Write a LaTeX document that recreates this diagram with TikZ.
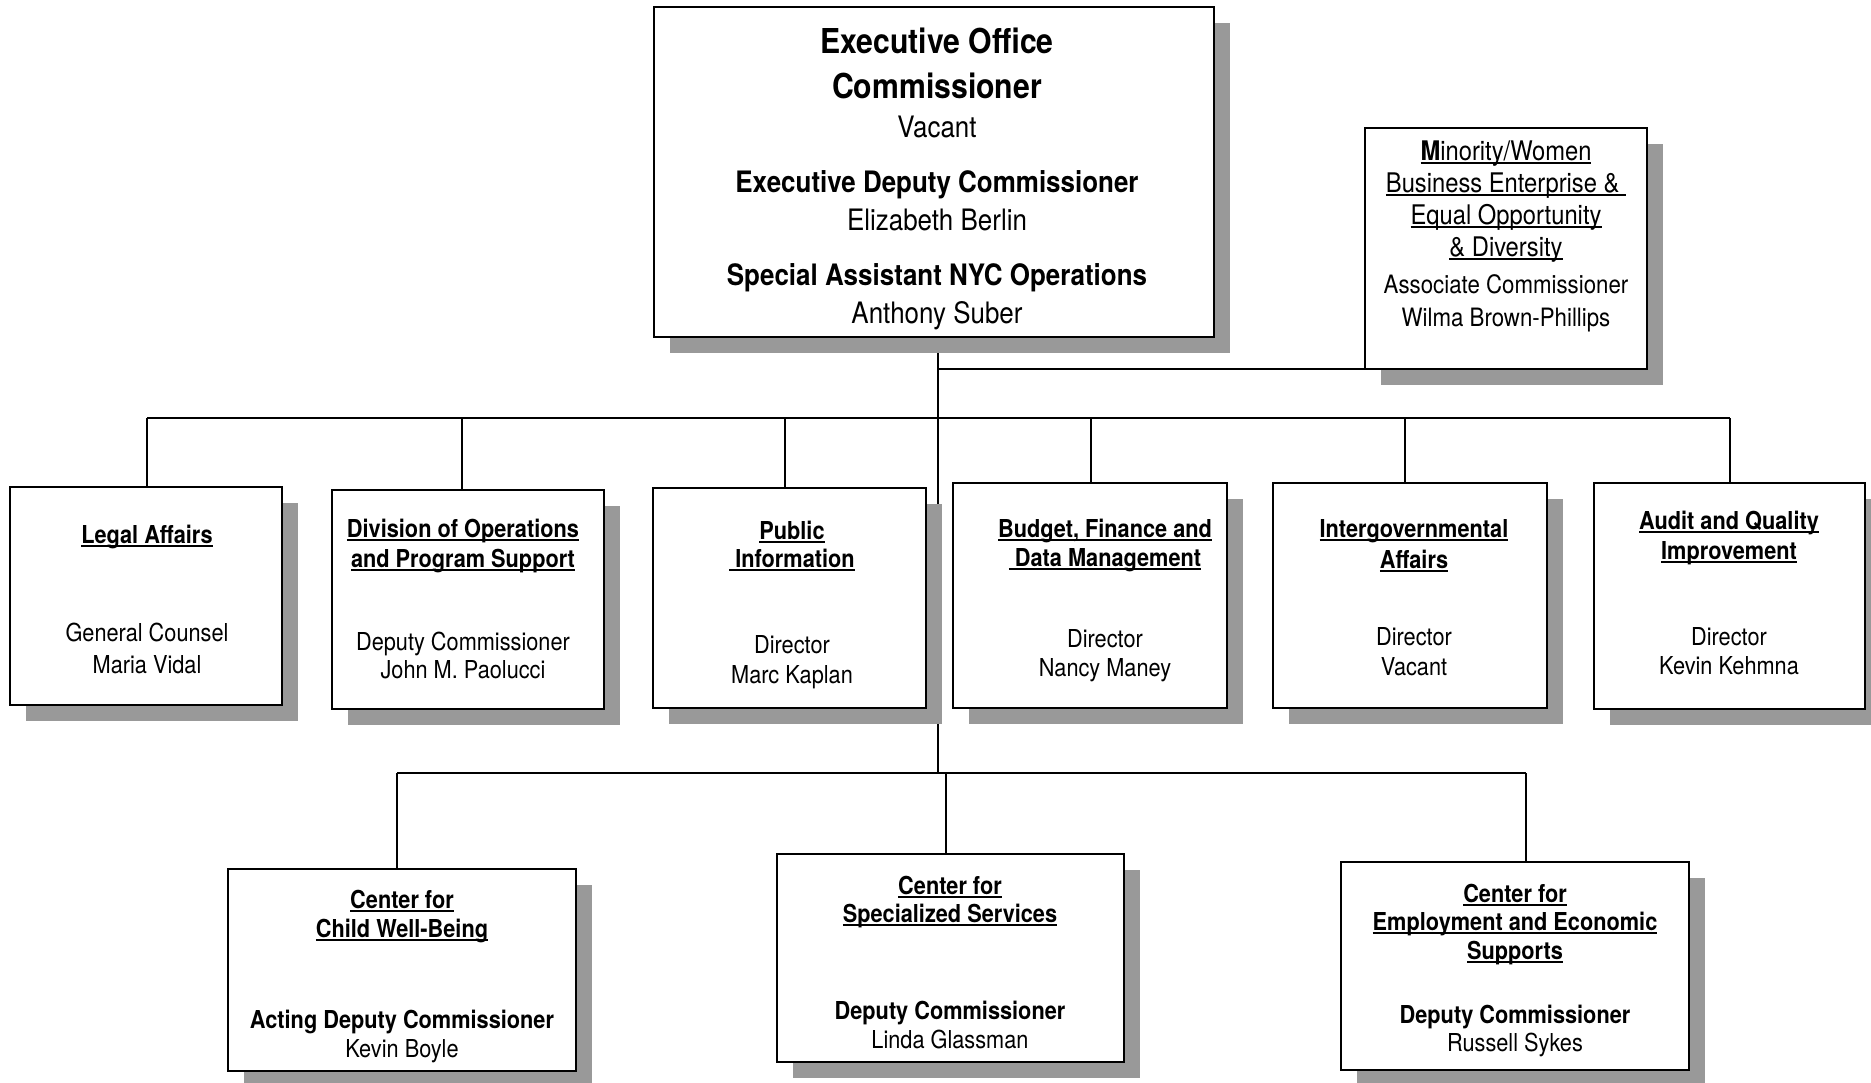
\documentclass[tikz,border=0pt]{standalone}
\usepackage{fontspec}
\setmainfont{TeX Gyre Heros}[FakeStretch=0.88]
\usetikzlibrary{shadows}
\pgfdeclarelayer{bg}
\pgfsetlayers{bg,main}
\definecolor{shadowgray}{RGB}{153,153,153}
\newsavebox\ulbox
\newcommand\ulx[1]{\sbox\ulbox{#1}\rlap{\rule[-4pt]{\wd\ulbox}{1.8pt}}\usebox\ulbox}
\newcommand\fsN{\fontsize{24.7pt}{29pt}\selectfont}
\newcommand\fsM{\fontsize{29.5pt}{34pt}\selectfont}
\newcommand\fsXL{\fontsize{34.3pt}{40pt}\selectfont}
\newcommand\fsMH{\fontsize{27pt}{31pt}\selectfont}
\newcommand\fsMN{\fontsize{25.3pt}{29pt}\selectfont}
\tikzset{
  box/.style={draw=black, line width=1.6pt, fill=white, inner sep=0pt, outer sep=0pt,
    general shadow={fill=shadowgray, shadow xshift=16pt, shadow yshift=-16pt}},
  ln/.style={line width=2pt, black},
  txt/.style={anchor=base, inner sep=0pt, outer sep=0pt, text=black},
  nm/.style={txt, font=\fsN},
  hd/.style={txt, font=\fsN\bfseries},
}
\begin{document}
\begin{tikzpicture}[x=1pt,y=-1pt]
\begin{pgfonlayer}{bg}\fill[white] (0,0) rectangle (1871,1082);\end{pgfonlayer}
\useasboundingbox (0,0) rectangle (1871,1082);

% boxes
\node[box, minimum width=560pt, minimum height=330pt] (exec) at (934,172) {};
\node[box, minimum width=282pt, minimum height=241pt] (mwbe) at (1506,248.5) {};
\node[box, minimum width=272pt, minimum height=218pt] (legal) at (146,596) {};
\node[box, minimum width=272pt, minimum height=219pt] (div) at (468,599.5) {};
\node[box, minimum width=273pt, minimum height=220pt] (pub) at (789.5,598) {};
\node[box, minimum width=274pt, minimum height=225pt] (bud) at (1090,595.5) {};
\node[box, minimum width=274pt, minimum height=225pt] (igov) at (1410,595.5) {};
\node[box, minimum width=271pt, minimum height=226pt] (audit) at (1729.5,596) {};
\node[box, minimum width=348pt, minimum height=202pt] (child) at (402,970) {};
\node[box, minimum width=347pt, minimum height=208pt] (spec) at (950.5,958) {};
\node[box, minimum width=348pt, minimum height=208pt] (emp) at (1515,966) {};

% junctions
\coordinate (jMin) at (938,369);
\coordinate (jBus) at (938,418);
\coordinate (jLow) at (938,773);
\coordinate (dLegal) at (147,418);
\coordinate (dDiv) at (462,418);
\coordinate (dPub) at (785,418);
\coordinate (dBud) at (1091,418);
\coordinate (dIgov) at (1405,418);
\coordinate (dAudit) at (1730,418);
\coordinate (dChild) at (397,773);
\coordinate (dSpec) at (946,773);
\coordinate (dEmp) at (1526,773);

\begin{pgfonlayer}{bg}
\draw[ln] (exec.south -| jBus) -- (jLow);
\draw[ln] (jMin) -- (mwbe.south west);
\draw[ln] (dLegal) -- (dAudit);
\foreach \d/\b in {dLegal/legal, dDiv/div, dPub/pub, dBud/bud, dIgov/igov, dAudit/audit, dChild/child, dSpec/spec, dEmp/emp}
  \draw[ln] (\d) -- (\d |- \b.north);
\draw[ln] (dChild) -- (dEmp);
\end{pgfonlayer}

% executive office
\node[txt, font=\fsXL\bfseries] (exA) at (937,53) {Executive Office};
\node[txt, font=\fsXL\bfseries] (exB) at (937,98) {Commissioner};
\node[txt, font=\fsM] (exC) at (937,137) {Vacant};
\node[txt, font=\fsM\bfseries] (exD) at (937,192) {Executive Deputy Commissioner};
\node[txt, font=\fsM] (exE) at (937,230) {Elizabeth Berlin};
\node[txt, font=\fsM\bfseries] (exF) at (937,285) {Special Assistant NYC Operations};
\node[txt, font=\fsM] (exG) at (937,323) {Anthony Suber};

% minority / women
\node[txt, font=\fsMH] (mwA) at (1506,160) {\ulx{\textbf{M}inority/Women}};
\node[txt, font=\fsMH] (mwB) at (1506,192) {\ulx{Business Enterprise \&\ }};
\node[txt, font=\fsMH] (mwC) at (1506,224) {\ulx{Equal Opportunity}};
\node[txt, font=\fsMH] (mwD) at (1506,256) {\ulx{\& Diversity}};
\node[txt, font=\fsMN] (mwE) at (1506,293) {Associate Commissioner};
\node[txt, font=\fsMN] (mwF) at (1506,326) {Wilma Brown-Phillips};

% legal
\node[hd] (lgA) at (147,543) {\ulx{Legal Affairs}};
\node[nm] (lgB) at (147,641) {General Counsel};
\node[nm] (lgC) at (147,673) {Maria Vidal};

% division
\node[hd] (dvA) at (463,537) {\ulx{Division of Operations}};
\node[hd] (dvB) at (463,567) {\ulx{and Program Support}};
\node[nm] (dvC) at (463,650) {Deputy Commissioner};
\node[nm] (dvD) at (463,678) {John M. Paolucci};

% public information
\node[hd] (pbA) at (792,539) {\ulx{Public}};
\node[hd] (pbB) at (792,567) {\ulx{\ Information}};
\node[nm] (pbC) at (792,653) {Director};
\node[nm] (pbD) at (792,683) {Marc Kaplan};

% budget
\node[hd] (bdA) at (1105,537) {\ulx{Budget, Finance and}};
\node[hd] (bdB) at (1105,566) {\ulx{\ Data Management}};
\node[nm] (bdC) at (1105,647) {Director};
\node[nm] (bdD) at (1105,676) {Nancy Maney};

% intergovernmental
\node[hd] (igA) at (1414,537) {\ulx{Intergovernmental}};
\node[hd] (igB) at (1414,568) {\ulx{Affairs}};
\node[nm] (igC) at (1414,645) {Director};
\node[nm] (igD) at (1414,675) {Vacant};

% audit
\node[hd] (auA) at (1729,529) {\ulx{Audit and Quality}};
\node[hd] (auB) at (1729,559) {\ulx{Improvement}};
\node[nm] (auC) at (1729,645) {Director};
\node[nm] (auD) at (1729,674) {Kevin Kehmna};

% child well-being
\node[hd] (chA) at (402,908) {\ulx{Center for}};
\node[hd] (chB) at (402,937) {\ulx{Child Well-Being}};
\node[hd] (chC) at (402,1028) {Acting Deputy Commissioner};
\node[nm] (chD) at (402,1057) {Kevin Boyle};

% specialized services
\node[hd] (spA) at (950,894) {\ulx{Center for}};
\node[hd] (spB) at (950,922) {\ulx{Specialized Services}};
\node[hd] (spC) at (950,1019) {Deputy Commissioner};
\node[nm] (spD) at (950,1048) {Linda Glassman};

% employment
\node[hd] (emA) at (1515,902) {\ulx{Center for}};
\node[hd] (emB) at (1515,930) {\ulx{Employment and Economic}};
\node[hd] (emC) at (1515,959) {\ulx{Supports}};
\node[hd] (emD) at (1515,1023) {Deputy Commissioner};
\node[nm] (emE) at (1515,1051) {Russell Sykes};
\end{tikzpicture}
\end{document}
